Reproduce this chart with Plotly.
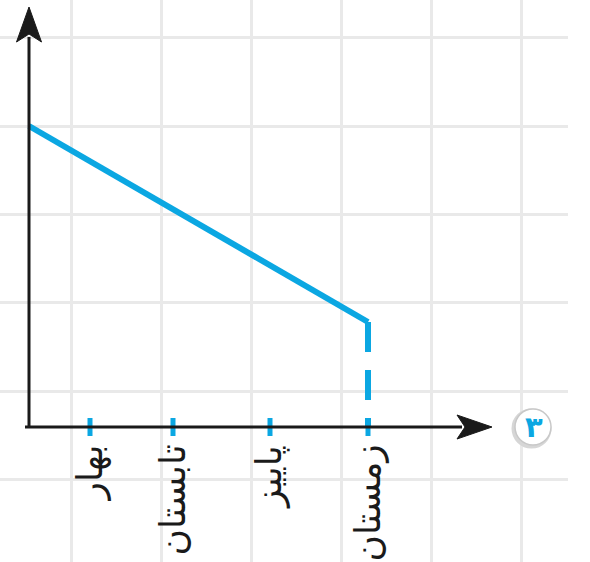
import plotly.graph_objects as go

# ---- data (chart units; origin at axis corner) ----
seasons = ["بهار", "تابستان", "پاییز", "زمستان"]
season_x = [61, 144, 241, 339]
line_x = [0, 339]
line_y = [301, 105]
badge_text = "۳"

BLUE = "#0ba7e2"
INK = "#1a1a1a"
GRID = "#e9e9e9"
LABEL_FONT = "DejaVu Sans"

W, H = 590, 562
x_range = [-29, 539]
y_range = [-135, 427]

fig = go.Figure()

# solid decreasing line
fig.add_trace(go.Scatter(x=line_x, y=line_y, mode="lines",
                         line=dict(color=BLUE, width=6), hoverinfo="skip"))
# dashed drop to the axis
fig.add_trace(go.Scatter(x=[line_x[-1], line_x[-1]], y=[line_y[-1], 0], mode="lines",
                         line=dict(color=BLUE, width=6, dash="30px,18px"), hoverinfo="skip"))

# blue tick marks crossing the axis
tx, ty = [], []
for s in season_x:
    tx += [s, s, None]
    ty += [9, -9, None]
fig.add_trace(go.Scatter(x=tx, y=ty, mode="lines",
                         line=dict(color=BLUE, width=5), hoverinfo="skip"))

shapes = []
# axes lines
y_top = 420
x_tip = 463
shapes.append(dict(type="line", x0=0, y0=-1, x1=0, y1=y_top - 30,
                   line=dict(color=INK, width=3), layer="above"))
shapes.append(dict(type="line", x0=-4, y0=0, x1=x_tip - 30, y1=0,
                   line=dict(color=INK, width=3), layer="above"))
# arrowheads
shapes.append(dict(type="path",
                   path=f"M0,{y_top} L12.5,{y_top-35} L0,{y_top-27} L-12.5,{y_top-35} Z",
                   fillcolor=INK, line=dict(color=INK, width=1), layer="above"))
shapes.append(dict(type="path",
                   path=f"M{x_tip},0 L{x_tip-35},12 L{x_tip-27},0 L{x_tip-35},-12 Z",
                   fillcolor=INK, line=dict(color=INK, width=1), layer="above"))
# badge circle
cx, cy, r = 504, 0, 18
shapes.append(dict(type="circle", x0=cx - r - 1.5, x1=cx + r - 1.5, y0=cy - r - 1.5, y1=cy + r - 1.5,
                   line=dict(color="#d6d6d6", width=4), fillcolor="white", layer="above"))
shapes.append(dict(type="circle", x0=cx - r, x1=cx + r, y0=cy - r, y1=cy + r,
                   line=dict(color="#c8c8c8", width=1.5), fillcolor="white", layer="above"))

annotations = []
for s, name in zip(season_x, seasons):
    annotations.append(dict(x=s - 1, y=-16, text=name, showarrow=False,
                            textangle=-90, xanchor="center", yanchor="top",
                            font=dict(family=LABEL_FONT, size=36, color=INK)))
annotations.append(dict(x=cx + 1, y=cy, text=f"<b>{badge_text}</b>", showarrow=False,
                        xanchor="center", yanchor="middle",
                        font=dict(family="DejaVu Sans", size=29, color=BLUE)))

fig.update_layout(
    width=W, height=H,
    margin=dict(l=0, r=22, t=0, b=0),
    paper_bgcolor="white", plot_bgcolor="white",
    showlegend=False,
    shapes=shapes, annotations=annotations,
    xaxis=dict(range=x_range, showgrid=True, gridcolor=GRID, gridwidth=2.5,
               tick0=42, dtick=90, showticklabels=False, zeroline=False,
               showline=False, ticks="", fixedrange=True),
    yaxis=dict(range=y_range, showgrid=True, gridcolor=GRID, gridwidth=2.5,
               tick0=36, dtick=88.3, showticklabels=False, zeroline=False,
               showline=False, ticks="", fixedrange=True),
)

fig.write_html("out.html", config={"displayModeBar": False},
               post_script="document.body.style.margin='0';")
